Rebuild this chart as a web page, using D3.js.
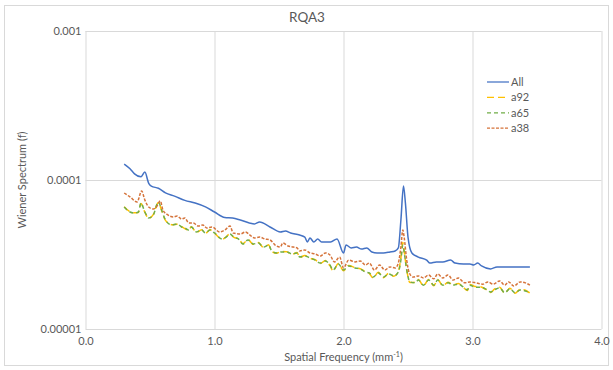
<!DOCTYPE html>
<html><head><meta charset="utf-8">
<script src="https://cdn.jsdelivr.net/npm/d3@7"></script>
<style>
body{margin:0;background:#fff;}
svg text{font-family:Lato,"Open Sans",sans-serif;fill:#595959;}
</style></head>
<body><svg id="c" width="613" height="370"></svg>
<script>
const chartTitle = "RQA3";
const xTicks = [0, 1, 2, 3, 4];
const yTicks = [0.00001, 0.0001, 0.001];
const yTickLabels = ["0.00001", "0.0001", "0.001"];
const seriesNames = ["All", "a92", "a65", "a38"];

const freqAll = [0.30,0.345,0.38,0.43,0.46,0.49,0.51,0.565,0.62,0.69,0.77,0.85,0.93,1.00,1.08,1.14,1.20,1.27,1.31,1.35,1.43,1.51,1.55,1.59,1.66,1.70,1.72,1.74,1.77,1.80,1.83,1.90,1.95,2.00,2.02,2.06,2.10,2.14,2.18,2.22,2.26,2.31,2.36,2.40,2.425,2.445,2.465,2.48,2.50,2.53,2.58,2.645,2.67,2.72,2.77,2.83,2.865,2.93,2.98,3.01,3.04,3.07,3.14,3.19,3.24,3.29,3.34,3.39,3.445];
const valAll = [1.28e-4,1.19e-4,1.10e-4,1.05e-4,1.13e-4,9.5e-5,9.1e-5,8.8e-5,8.2e-5,7.8e-5,7.3e-5,7.0e-5,6.6e-5,6.1e-5,5.6e-5,5.56e-5,5.39e-5,5.15e-5,5.07e-5,5.23e-5,4.84e-5,4.48e-5,4.55e-5,4.41e-5,4.27e-5,4.14e-5,3.84e-5,4.08e-5,3.84e-5,4.02e-5,3.84e-5,3.84e-5,4.02e-5,3.24e-5,3.66e-5,3.50e-5,3.55e-5,3.44e-5,3.50e-5,3.29e-5,3.24e-5,3.24e-5,3.29e-5,3.34e-5,3.50e-5,5.39e-5,9.1e-5,7.0e-5,4.14e-5,3.24e-5,3.04e-5,2.90e-5,2.77e-5,2.82e-5,2.82e-5,2.90e-5,2.77e-5,2.73e-5,2.73e-5,2.69e-5,2.77e-5,2.65e-5,2.53e-5,2.61e-5,2.61e-5,2.61e-5,2.61e-5,2.61e-5,2.61e-5];

const freqA38 = [0.30,0.345,0.40,0.435,0.46,0.49,0.525,0.55,0.58,0.60,0.64,0.68,0.71,0.745,0.77,0.80,0.835,0.875,0.91,0.94,0.98,1.04,1.08,1.12,1.145,1.20,1.24,1.275,1.31,1.35,1.39,1.43,1.47,1.51,1.53,1.57,1.61,1.64,1.66,1.70,1.74,1.78,1.82,1.86,1.895,1.93,1.97,2.00,2.04,2.09,2.13,2.17,2.20,2.24,2.28,2.32,2.36,2.40,2.425,2.445,2.46,2.47,2.49,2.51,2.54,2.58,2.62,2.66,2.70,2.73,2.77,2.81,2.85,2.89,2.94,2.98,3.03,3.08,3.12,3.16,3.21,3.25,3.28,3.32,3.37,3.41,3.445];
const valA38 = [8.18e-5,7.7e-5,7.12e-5,8.44e-5,7.34e-5,6.59e-5,6.39e-5,6.59e-5,7.23e-5,6.29e-5,5.82e-5,5.65e-5,5.73e-5,5.47e-5,5.56e-5,5.15e-5,5.15e-5,4.91e-5,4.99e-5,4.76e-5,4.84e-5,4.48e-5,4.62e-5,4.91e-5,4.41e-5,4.34e-5,4.48e-5,4.27e-5,4.08e-5,4.14e-5,4.02e-5,3.96e-5,3.66e-5,3.55e-5,3.78e-5,3.61e-5,3.55e-5,3.50e-5,3.34e-5,3.39e-5,3.24e-5,3.19e-5,3.09e-5,3.24e-5,3.14e-5,2.82e-5,3.04e-5,2.57e-5,2.90e-5,2.82e-5,2.86e-5,2.69e-5,2.77e-5,2.49e-5,2.69e-5,2.49e-5,2.61e-5,2.57e-5,2.77e-5,3.55e-5,4.62e-5,4.14e-5,2.90e-5,2.38e-5,2.23e-5,2.27e-5,2.20e-5,2.30e-5,2.17e-5,2.34e-5,2.20e-5,2.30e-5,2.13e-5,2.20e-5,2.04e-5,2.07e-5,2.04e-5,2.00e-5,2.07e-5,2.00e-5,2.10e-5,1.97e-5,2.07e-5,1.94e-5,2.07e-5,2.04e-5,1.97e-5];

const freqLow = [0.30,0.345,0.38,0.41,0.43,0.46,0.49,0.525,0.565,0.59,0.62,0.67,0.71,0.745,0.77,0.80,0.82,0.86,0.90,0.93,0.965,1.00,1.06,1.09,1.12,1.15,1.185,1.22,1.26,1.30,1.34,1.38,1.42,1.44,1.48,1.52,1.56,1.60,1.64,1.66,1.70,1.74,1.78,1.82,1.86,1.895,1.92,1.96,2.00,2.04,2.09,2.13,2.17,2.20,2.23,2.27,2.31,2.35,2.39,2.425,2.445,2.46,2.47,2.49,2.515,2.555,2.58,2.62,2.66,2.70,2.73,2.77,2.81,2.85,2.89,2.93,2.96,2.98,3.02,3.06,3.10,3.14,3.17,3.21,3.25,3.29,3.33,3.37,3.41,3.445];
const valA65 = [6.59e-5,6.10e-5,6.0e-5,6.1e-5,7.0e-5,6.1e-5,5.56e-5,5.82e-5,7.12e-5,6.29e-5,5.39e-5,4.99e-5,5.07e-5,4.84e-5,4.76e-5,4.62e-5,4.84e-5,4.48e-5,4.62e-5,4.41e-5,4.62e-5,4.41e-5,4.02e-5,4.14e-5,4.34e-5,4.14e-5,4.02e-5,3.72e-5,3.96e-5,3.72e-5,3.78e-5,3.55e-5,3.66e-5,3.39e-5,3.24e-5,3.29e-5,3.29e-5,3.19e-5,3.24e-5,3.04e-5,3.09e-5,3.00e-5,2.90e-5,2.77e-5,2.86e-5,2.69e-5,2.49e-5,2.73e-5,2.49e-5,2.65e-5,2.57e-5,2.53e-5,2.41e-5,2.38e-5,2.23e-5,2.38e-5,2.23e-5,2.34e-5,2.27e-5,2.41e-5,2.90e-5,3.66e-5,3.29e-5,2.49e-5,2.07e-5,2.04e-5,2.13e-5,1.97e-5,2.13e-5,1.97e-5,2.13e-5,1.97e-5,2.04e-5,1.97e-5,2.00e-5,1.91e-5,1.83e-5,1.97e-5,1.91e-5,1.91e-5,1.86e-5,1.77e-5,1.83e-5,1.89e-5,1.75e-5,1.86e-5,1.75e-5,1.83e-5,1.80e-5,1.75e-5];
const valA92 = [6.62e-5,6.12e-5,6.02e-5,6.05e-5,6.95e-5,6.08e-5,5.52e-5,5.85e-5,7.05e-5,6.25e-5,5.36e-5,5.01e-5,5.05e-5,4.86e-5,4.72e-5,4.60e-5,4.86e-5,4.45e-5,4.64e-5,4.38e-5,4.64e-5,4.40e-5,4.00e-5,4.16e-5,4.36e-5,4.12e-5,4.04e-5,3.74e-5,3.98e-5,3.70e-5,3.80e-5,3.52e-5,3.68e-5,3.36e-5,3.22e-5,3.31e-5,3.30e-5,3.17e-5,3.26e-5,3.02e-5,3.11e-5,2.98e-5,2.92e-5,2.75e-5,2.88e-5,2.66e-5,2.45e-5,2.75e-5,2.46e-5,2.67e-5,2.58e-5,2.54e-5,2.43e-5,2.36e-5,2.20e-5,2.40e-5,2.21e-5,2.36e-5,2.26e-5,2.43e-5,3.0e-5,3.80e-5,3.35e-5,2.50e-5,2.05e-5,2.06e-5,2.15e-5,1.95e-5,2.15e-5,1.95e-5,2.15e-5,1.95e-5,2.06e-5,1.98e-5,2.02e-5,1.90e-5,1.81e-5,1.99e-5,1.93e-5,1.92e-5,1.85e-5,1.76e-5,1.85e-5,1.91e-5,1.74e-5,1.88e-5,1.74e-5,1.85e-5,1.82e-5,1.74e-5];

const seriesFreqs = [freqAll, freqLow, freqLow, freqA38];
const seriesVals = [valAll, valA92, valA65, valA38];
const seriesColors = ["#4472C4", "#FFC000", "#70AD47", "#D5733A"];
const seriesDash = [null, "7,4", "4,3", "3,1.5"];
const drawOrder = [0, 1, 2, 3];

const svg = d3.select("#c");
const W = 613, H = 370;
const m = {left: 85.5, right: 11.5, top: 31, bottom: 41};
const x = d3.scaleLinear().domain([0, 4]).range([m.left, W - m.right]);
const y = d3.scaleLog().domain([1e-5, 1e-3]).range([H - m.bottom, m.top]);

svg.append("rect").attr("x", 4.5).attr("y", 5.5).attr("width", 604).attr("height", 360)
  .attr("fill", "#fff").attr("stroke", "#d9d9d9");

// gridlines
const gx = svg.append("g").attr("transform", `translate(0,${H - m.bottom})`)
  .call(d3.axisBottom(x).tickValues(xTicks).tickSize(-(H - m.bottom - m.top)).tickFormat(d3.format(".1f")).tickPadding(8));
gx.select(".domain").remove();
gx.selectAll("line").attr("stroke", "#d9d9d9");
gx.selectAll("text").attr("font-size", 11).attr("fill", "#595959").style("font-family", "Lato,sans-serif");

const gy = svg.append("g").attr("transform", `translate(${m.left},0)`)
  .call(d3.axisLeft(y).tickValues(yTicks).tickSize(-(W - m.left - m.right)).tickFormat((d, i) => yTickLabels[i]).tickPadding(4));
gy.select(".domain").remove();
gy.selectAll("line").attr("stroke", "#d9d9d9");
gy.selectAll("text").attr("font-size", 11).attr("fill", "#595959").style("font-family", "Lato,sans-serif");

// series
const line = d3.line().x(d => x(d[0])).y(d => y(d[1])).curve(d3.curveMonotoneX);
drawOrder.forEach(i => {
  const pts = seriesFreqs[i].map((f, k) => [f, seriesVals[i][k]]);
  svg.append("path").datum(pts).attr("d", line).attr("fill", "none")
    .attr("stroke", seriesColors[i]).attr("stroke-width", 1.5)
    .attr("stroke-dasharray", seriesDash[i]);
});

// title
svg.append("text").attr("x", 307).attr("y", 22).attr("text-anchor", "middle").attr("font-size", 13.5).text(chartTitle);

// axis titles
const xt = svg.append("text").attr("x", x(2)).attr("y", 361).attr("text-anchor", "middle").attr("font-size", 11);
xt.append("tspan").text("Spatial Frequency (mm");
xt.append("tspan").attr("font-size", 7).attr("dy", -4).text("-1");
xt.append("tspan").attr("dy", 4).text(")");
svg.append("text").attr("transform", `translate(26,${y(1e-4)}) rotate(-90)`).attr("text-anchor", "middle").attr("font-size", 11).text("Wiener Spectrum (f)");

// legend
const lg = svg.append("g");
seriesNames.forEach((n, i) => {
  const yy = 82 + i * 15.4;
  lg.append("line").attr("x1", 487).attr("x2", 509).attr("y1", yy).attr("y2", yy)
    .attr("stroke", seriesColors[i]).attr("stroke-width", 1.25).attr("stroke-dasharray", seriesDash[i]);
  lg.append("text").attr("x", 511).attr("y", yy + 4).attr("font-size", 11).text(n);
});
</script></body></html>
